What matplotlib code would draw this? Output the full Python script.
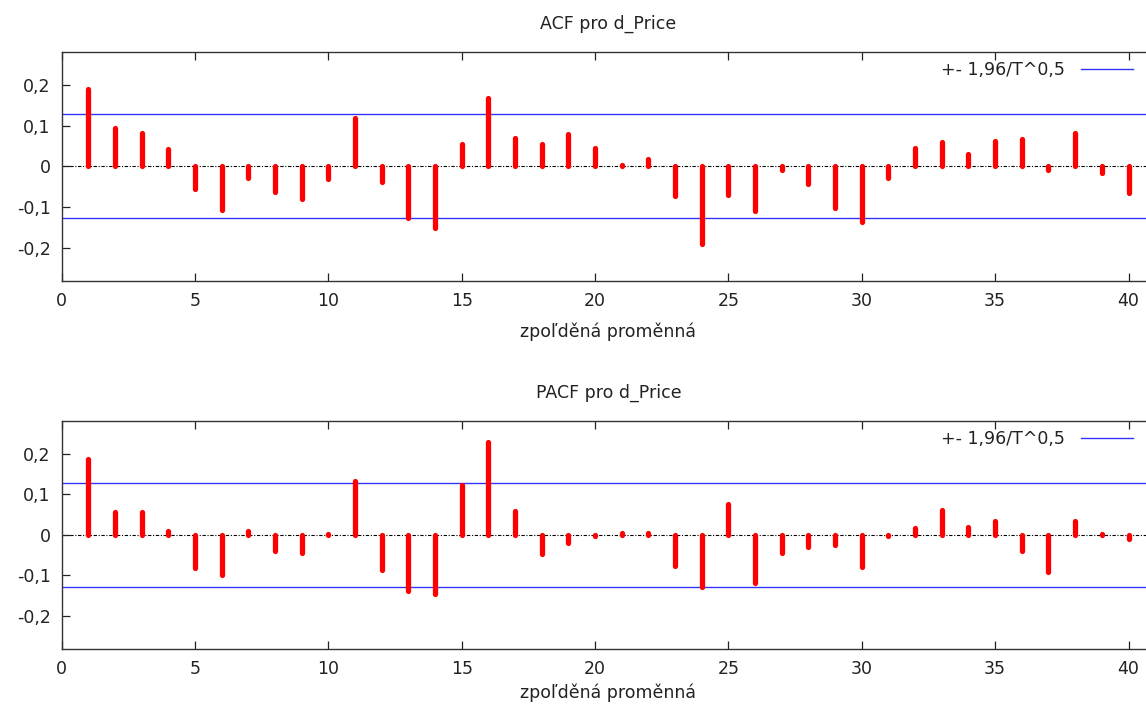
import matplotlib
matplotlib.use("Agg")
import matplotlib.pyplot as plt
import numpy as np

lags = list(range(1, 41))
acf = [0.189, 0.093, 0.083, 0.043, -0.056, -0.108, -0.029, -0.063, -0.081, -0.031,
       0.118, -0.039, -0.128, -0.152, 0.055, 0.168, 0.070, 0.054, 0.080, 0.045,
       0.002, 0.018, -0.072, -0.192, -0.070, -0.111, -0.009, -0.043, -0.102, -0.137,
       -0.030, 0.044, 0.060, 0.030, 0.063, 0.068, -0.010, 0.083, -0.017, -0.066]
pacf = [0.188, 0.057, 0.057, 0.010, -0.081, -0.099, 0.009, -0.040, -0.046, 0.002,
        0.134, -0.087, -0.138, -0.146, 0.123, 0.230, 0.058, -0.047, -0.021, -0.003,
        0.005, 0.004, -0.078, -0.128, 0.076, -0.118, -0.044, -0.029, -0.026, -0.079,
        -0.003, 0.016, 0.062, 0.020, 0.035, -0.040, -0.092, 0.035, 0.003, -0.010]
band = 0.128
titles = ["ACF pro d_Price", "PACF pro d_Price"]
xlabel = "zpoľděná proměnná"
legend_label = "+- 1,96/T^0,5"
yticks = [-0.2, -0.1, 0.0, 0.1, 0.2]
ytick_labels = ["-0,2", "-0,1", "0", "0,1", "0,2"]
xticks = [0, 5, 10, 15, 20, 25, 30, 35, 40]

plt.rcParams['font.family'] = ['DejaVu Sans']
W, H = 1146, 706
fig = plt.figure(figsize=(W / 100, H / 100), dpi=100)

FS = 12.5
TC = '#222222'
x0_px = 61.7
unit_px = 26.67
xmax = 41
ax_w = xmax * unit_px / W
axes_px = [(52, 281), (421, 649)]
label_pads = [9, 4]

for i, (vals, title) in enumerate(zip([acf, pacf], titles)):
    top, bot = axes_px[i]
    ax = fig.add_axes([x0_px / W, 1 - bot / H, ax_w, (bot - top) / H])
    ax.set_xlim(0, xmax)
    ax.set_ylim(-0.282, 0.281)
    ax.axhline(0, color='black', lw=0.8, ls=(0, (3, 1.5, 1, 1.5)), zorder=1)
    ax.axhline(band, color='#3333ff', lw=1.0, zorder=2, label=legend_label)
    ax.axhline(-band, color='#3333ff', lw=1.0, zorder=2)
    lc = ax.vlines(lags, 0, vals, colors='#ff0000', linewidth=3.8, zorder=3)
    lc.set_capstyle('round')
    ax.set_yticks(yticks)
    ax.set_yticklabels(ytick_labels)
    ax.set_xticks(xticks)
    ax.tick_params(direction='in', length=5.5, width=0.9, top=True, right=False,
                   labelsize=FS, colors=TC, pad=8)
    for s in ax.spines.values():
        s.set_color('#333333')
        s.set_linewidth(1.0)
    ax.spines['right'].set_visible(False)
    ax.set_title(title, fontsize=FS, pad=17, color=TC)
    ax.set_xlabel(xlabel, fontsize=FS, color=TC, labelpad=label_pads[i])
    leg = ax.legend(loc='upper right', bbox_to_anchor=(1144 / W, 1 - (top - 2) / H),
                    bbox_transform=fig.transFigure, frameon=False, markerfirst=False,
                    handlelength=3.0, fontsize=FS, borderpad=0.15, handletextpad=0.9)
    for t in leg.get_texts():
        t.set_color(TC)

fig.savefig("out.png", dpi=100)
